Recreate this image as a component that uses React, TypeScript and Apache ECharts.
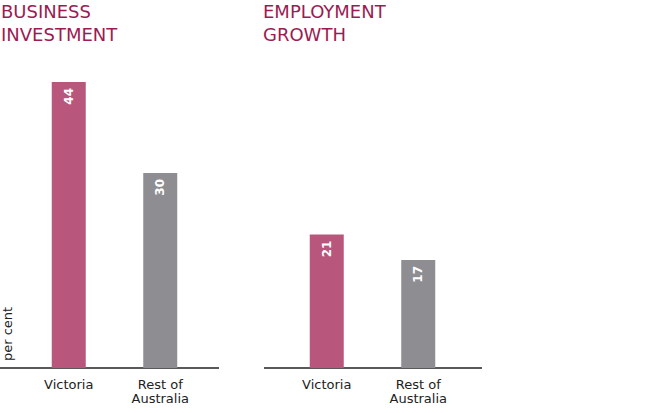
import {useEffect, useRef} from 'react';
import * as echarts from 'echarts';

const categories = ['Victoria', 'Rest of\nAustralia'];
const businessInvestment = [44, 30];
const employmentGrowth = [21, 17];
const titles = ['BUSINESS\nINVESTMENT', 'EMPLOYMENT\nGROWTH'];
const barColors = ['#b9567c', '#8e8d92'];

export default function App() {
    const chartRef = useRef<HTMLDivElement | null>(null);

    useEffect(() => {
        const el = chartRef.current;
        if (!el) return;
        const chart = echarts.init(el, undefined, {renderer: 'svg'});

        const fontFamily = '"DejaVu Sans", "Noto Sans", sans-serif';

        const makeSeries = (data: number[], idx: number) => ({
            type: 'bar',
            xAxisIndex: idx,
            yAxisIndex: idx,
            barWidth: 34,
            data: data.map((v, i) => ({value: v, itemStyle: {color: barColors[i]}})),
            label: {
                show: true,
                position: 'insideTop',
                distance: 6,
                rotate: 90,
                align: 'right',
                verticalAlign: 'middle',
                color: '#fff',
                fontWeight: 'bold',
                fontSize: 12,
                fontFamily,
            },
        });

        const xAxis = (idx: number) => ({
            type: 'category',
            gridIndex: idx,
            data: categories,
            axisLine: {show: false},
            axisTick: {show: false},
            axisLabel: {
                color: '#222',
                fontSize: 13,
                lineHeight: 14,
                fontFamily,
                margin: 9,
            },
        });

        const yAxis = (idx: number, max: number) => ({
            type: 'value',
            gridIndex: idx,
            min: 0,
            max,
            show: false,
            splitLine: {show: false},
        });

        const titleStyle = {fill: '#9b1b52', font: `18px ${fontFamily}`, lineHeight: 23};

        chart.setOption({
            animation: false,
            grid: [
                {left: 23, width: 183, top: 82, bottom: 45},
                {left: 281, width: 183, top: 82, bottom: 45},
            ],
            xAxis: [xAxis(0), xAxis(1)],
            yAxis: [yAxis(0, 44), yAxis(1, 45)],
            series: [makeSeries(businessInvestment, 0), makeSeries(employmentGrowth, 1)],
            graphic: [
                {type: 'text', left: 1, top: 0, style: {text: titles[0], ...titleStyle}},
                {type: 'text', left: 263, top: 0, style: {text: titles[1], ...titleStyle}},
                {
                    type: 'text',
                    x: 1,
                    y: 361,
                    rotation: Math.PI / 2,
                    style: {text: 'per cent', fill: '#222', font: `13px ${fontFamily}`, verticalAlign: 'top'},
                },
                {
                    type: 'line',
                    shape: {x1: 0, y1: 368, x2: 219, y2: 368},
                    style: {stroke: '#222', lineWidth: 1.5},
                },
                {
                    type: 'line',
                    shape: {x1: 264, y1: 368, x2: 482, y2: 368},
                    style: {stroke: '#222', lineWidth: 1.5},
                },
            ],
        });

        return () => chart.dispose();
    }, []);

    return (
        <div
            ref={chartRef}
            style={{position: 'fixed', left: 0, top: 0, width: '655px', height: '413px', background: '#fff'}}
        />
    );
}
